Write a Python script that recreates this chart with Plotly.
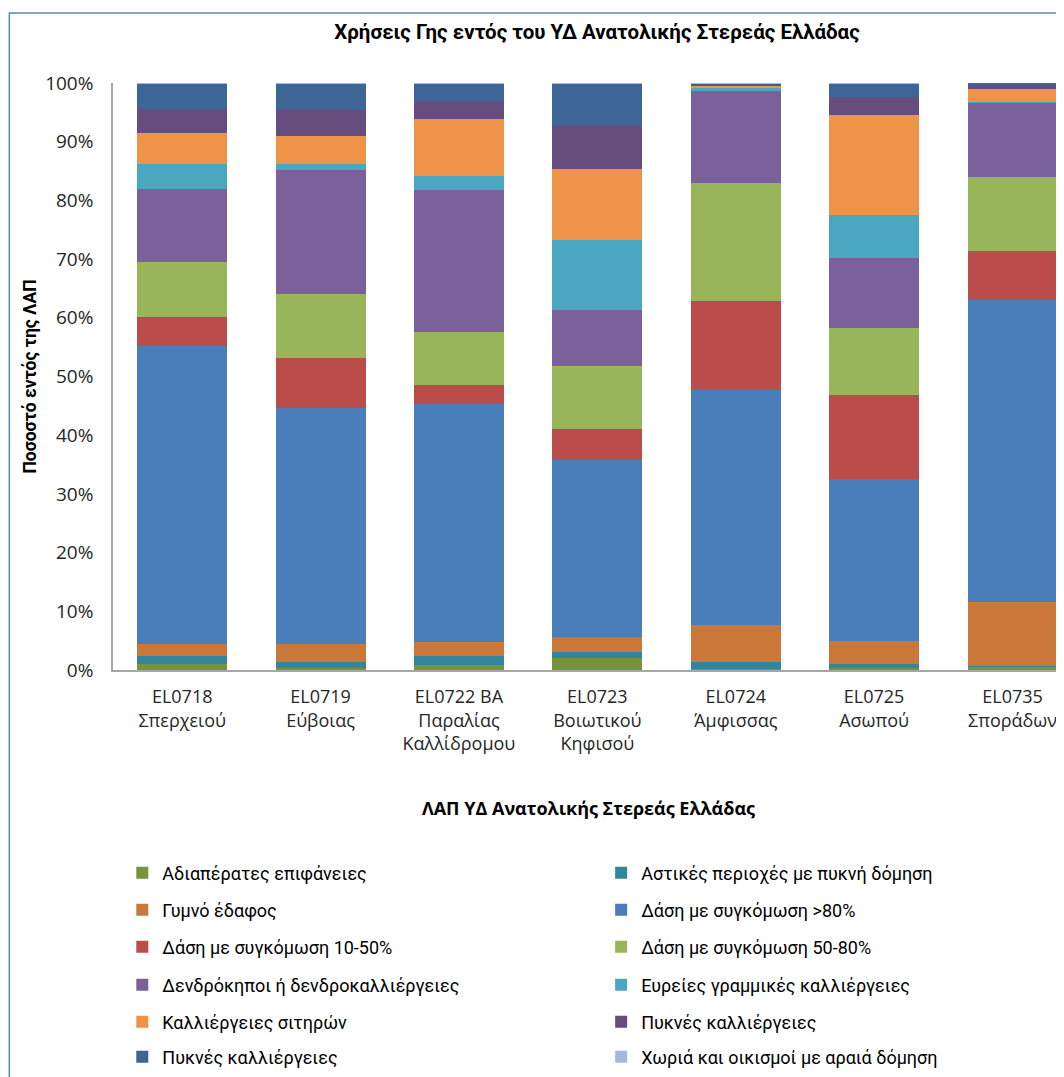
import plotly.graph_objects as go

categories = ["EL0718<br>Σπερχειού", "EL0719<br>Εύβοιας", "EL0722 ΒΑ<br>Παραλίας<br>Καλλίδρομου",
              "EL0723<br>Βοιωτικού<br>Κηφισού", "EL0724<br>Άμφισσας", "EL0725<br>Ασωπού", "EL0735<br>Σποράδων"]

series_names = [
    "Αδιαπέρατες επιφάνειες",
    "Αστικές περιοχές με πυκνή δόμηση",
    "Γυμνό έδαφος",
    "Δάση με συγκόμωση >80%",
    "Δάση με συγκόμωση 10-50%",
    "Δάση με συγκόμωση 50-80%",
    "Δενδρόκηποι ή δενδροκαλλιέργειες",
    "Ευρείες γραμμικές καλλιέργειες",
    "Καλλιέργειες σιτηρών",
    "Πυκνές καλλιέργειες",
    "Πυκνές καλλιέργειες ",
    "Χωριά και οικισμοί με αραιά δόμηση",
]

adiaperates = [1.1, 0.4, 0.8, 2.0, 0.2, 0.4, 0.6]
astikes = [1.3, 1.0, 1.6, 1.1, 1.1, 0.7, 0.05]
gymno = [2.1, 3.1, 2.3, 2.5, 6.4, 3.8, 11.0]
dasi_80 = [50.7, 40.1, 40.7, 30.1, 40.2, 27.6, 51.4]
dasi_10_50 = [4.9, 8.6, 3.1, 5.4, 15.0, 14.3, 8.4]
dasi_50_80 = [9.4, 10.9, 9.0, 10.7, 20.0, 11.5, 12.6]
dendrokipoi = [12.4, 21.0, 24.2, 9.6, 15.9, 11.9, 12.7]
eyreies = [4.3, 1.1, 2.5, 11.9, 0.3, 7.3, 0.05]
sitiron = [5.2, 4.8, 9.6, 12.1, 0.4, 17.0, 2.1]
pykenes_1 = [4.2, 4.4, 3.0, 7.3, 0.2, 3.1, 0.7]
pykenes_2 = [4.3, 4.5, 3.1, 7.2, 0.2, 2.3, 0.5]
xoria = [0.1, 0.1, 0.1, 0.1, 0.1, 0.1, 0.05]

series_values = [adiaperates, astikes, gymno, dasi_80, dasi_10_50, dasi_50_80,
                 dendrokipoi, eyreies, sitiron, pykenes_1, pykenes_2, xoria]

colors = ["#77933C", "#31859C", "#C9783A", "#4A7EBB", "#BA4D4A", "#98B55A",
          "#7B619B", "#4BA6C0", "#EE9348", "#654E7E", "#3D6696", "#A3B9DC"]

y_ticks = [0, 10, 20, 30, 40, 50, 60, 70, 80, 90, 100]

# the page body adds an 8px offset; work in screen pixels and shift back
OFF = 8
W, H = 1064 - OFF, 1077 - OFF
L, R, T = 112.7 - OFF, 0, 83 - OFF
ph = 587
B = H - T - ph
pw = W - L - R

def px_x(x):
    return (x - OFF - L) / pw

def px_y(y):
    return (T + ph - (y - OFF)) / ph

fig = go.Figure()
row_y = [873, 910, 947, 985, 1022, 1057]
col_x = [122, 601]
narrow = "Roboto, sans-serif"
for i, (name, vals, col) in enumerate(zip(series_names, series_values, colors)):
    lid = "legend" if i == 0 else f"legend{i+1}"
    fig.add_trace(go.Bar(
        x=list(range(len(categories))), y=vals, name=name,
        marker=dict(color=col, line=dict(width=0)),
        width=0.65, legend=lid, showlegend=True,
    ))
    r, c = divmod(i, 2)
    fig.update_layout(**{lid: dict(
        x=px_x(col_x[c]), y=px_y(row_y[r]), xanchor="left", yanchor="middle",
        bgcolor="rgba(0,0,0,0)", borderwidth=0,
        font=dict(family=narrow, size=18, color="#000000"),
    )})

fig.update_layout(
    width=W, height=H,
    showlegend=True,
    margin=dict(l=L, r=R, t=T, b=B, autoexpand=False),
    barmode="stack",
    plot_bgcolor="white", paper_bgcolor="white",
    title=dict(text="<b>Χρήσεις Γης εντός του ΥΔ Ανατολικής Στερεάς Ελλάδας</b>",
               x=(597 - OFF) / W, xanchor="center", y=1 - (32 - OFF) / H, yanchor="middle",
               font=dict(family=narrow, size=20.5, color="#000000")),
    xaxis=dict(
        range=[-0.5, 6.372], tickmode="array", tickvals=list(range(len(categories))),
        ticktext=categories, showgrid=False, showline=True, linecolor="#A6A6A6", linewidth=1.5,
        ticks="", ticklabelstandoff=10,
        tickfont=dict(family="Open Sans, sans-serif", size=18, color="#262626"),
        title=dict(text="<b>ΛΑΠ ΥΔ Ανατολικής Στερεάς Ελλάδας</b>", standoff=48,
                   font=dict(family="Open Sans, sans-serif", size=18, color="#000000")),
        zeroline=False, fixedrange=True,
    ),
    yaxis=dict(
        range=[0, 100], tickmode="array", tickvals=y_ticks,
        ticktext=[f"{v}%" for v in y_ticks], showgrid=False, showline=True,
        linecolor="#A6A6A6", linewidth=1.5, ticks="", ticklabelstandoff=14,
        tickfont=dict(family="Open Sans, sans-serif", size=19, color="#262626"),
        title=dict(text="<b>Ποσοστό εντός της ΛΑΠ</b>", standoff=4,
                   font=dict(family=narrow, size=17.5, color="#000000")),
        zeroline=False, fixedrange=True,
    ),
    shapes=[dict(type="rect", xref="paper", yref="paper",
                 x0=px_x(OFF + 1), x1=px_x(1075), y0=px_y(1090), y1=px_y(13),
                 line=dict(color="#5B86C0", width=1.5), fillcolor="rgba(0,0,0,0)", layer="below")],
)

fig.write_html("out.html")
